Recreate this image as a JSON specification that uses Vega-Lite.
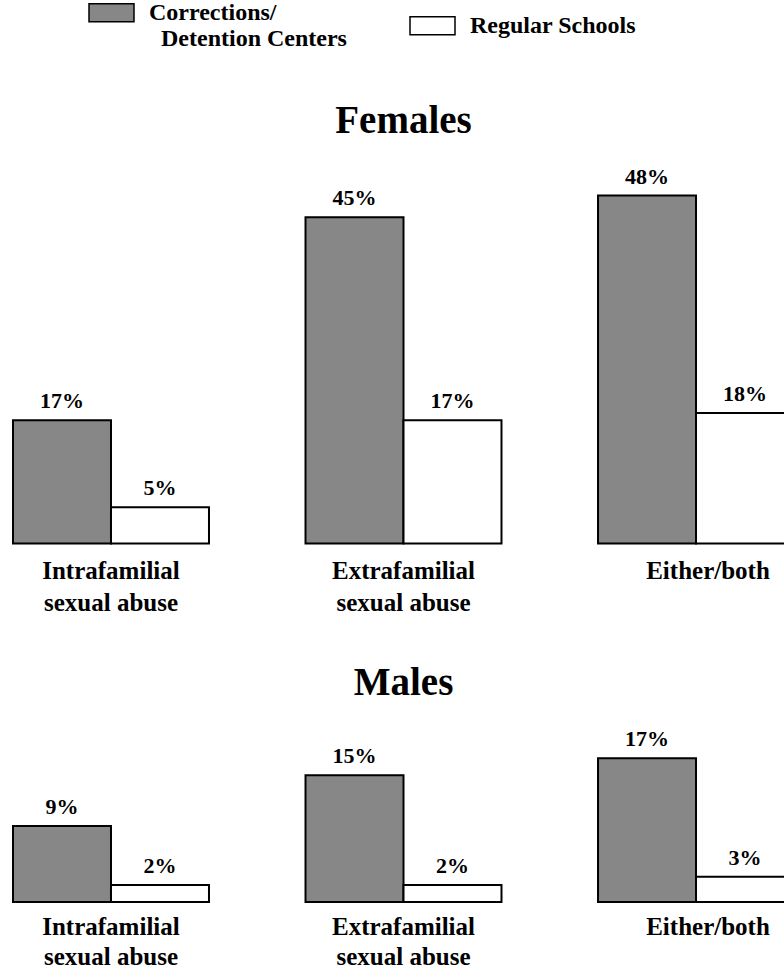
{
  "$schema": "https://vega.github.io/schema/vega-lite/v6.json",
  "padding": {"left": 12, "top": -11, "right": 0, "bottom": 0},
  "autosize": {"type": "pad"},
  "background": "white",
  "config": {
    "view": {"stroke": null},
    "font": "Liberation Serif",
    "title": {"font": "Liberation Serif", "fontSize": 39, "fontWeight": "bold", "color": "black", "anchor": "middle", "offset": 25},
    "axis": {"domain": false, "ticks": false, "grid": false, "labelFont": "Liberation Serif", "labelFontSize": 25, "labelFontWeight": "bold", "labelColor": "black", "labelPadding": 15, "labelLineHeight": 32, "labelLimit": 400, "title": null},
    "legend": {"padding": 0}
  },
  "datasets": {
    "females": [
      {"category": "Intrafamilial|sexual abuse", "type": "Corrections/Detention Centers", "value": 0.17},
      {"category": "Intrafamilial|sexual abuse", "type": "Regular Schools", "value": 0.05},
      {"category": "Extrafamilial|sexual abuse", "type": "Corrections/Detention Centers", "value": 0.45},
      {"category": "Extrafamilial|sexual abuse", "type": "Regular Schools", "value": 0.17},
      {"category": "Either/both", "type": "Corrections/Detention Centers", "value": 0.48},
      {"category": "Either/both", "type": "Regular Schools", "value": 0.18}
    ],
    "males": [
      {"category": "Intrafamilial|sexual abuse", "type": "Corrections/Detention Centers", "value": 0.09},
      {"category": "Intrafamilial|sexual abuse", "type": "Regular Schools", "value": 0.02},
      {"category": "Extrafamilial|sexual abuse", "type": "Corrections/Detention Centers", "value": 0.15},
      {"category": "Extrafamilial|sexual abuse", "type": "Regular Schools", "value": 0.02},
      {"category": "Either/both", "type": "Corrections/Detention Centers", "value": 0.17},
      {"category": "Either/both", "type": "Regular Schools", "value": 0.03}
    ]
  },
  "spacing": 48,
  "vconcat": [
    {
      "title": {"text": "Females"},
      "width": 781,
      "height": 362.5,
      "data": {"name": "females"},
      "encoding": {
        "x": {"field": "category", "type": "nominal", "sort": null, "scale": {"paddingInner": 0.33, "paddingOuter": 0},
          "axis": {"labelExpr": "split(datum.label, '|')", "labelAngle": 0,
            "labelOffset": {"condition": {"test": "datum.value == 'Either/both'", "value": 12}, "value": 0}}},
        "xOffset": {"field": "type", "type": "nominal", "sort": ["Corrections/Detention Centers", "Regular Schools"], "scale": {"paddingInner": 0, "paddingOuter": 0}},
        "y": {"field": "value", "type": "quantitative", "scale": {"domain": [0, 0.5]}, "axis": null}
      },
      "layer": [
        {
          "mark": {"type": "bar", "stroke": "black", "strokeWidth": 2, "opacity": 1},
          "encoding": {
            "fill": {"field": "type", "type": "nominal", "scale": {"domain": ["Corrections/Detention Centers", "Regular Schools"], "range": ["#878787", "#ffffff"]},
              "legend": {"orient": "none", "legendX": 75, "legendY": -192, "direction": "horizontal", "title": null, "symbolType": "M-1,-0.4H1V0.4H-1Z", "symbolSize": 2025, "symbolStrokeColor": "black", "symbolStrokeWidth": 1.5, "symbolOpacity": 1, "labelFont": "Liberation Serif", "labelFontSize": 24, "labelFontWeight": "bold", "labelColor": "black", "labelLimit": 400, "labelOffset": 14, "labelLineHeight": 28, "columnPadding": 60,
                "labelExpr": "datum.label == 'Regular Schools' ? datum.label : ['Corrections/', '\u200b\u00a0\u00a0Detention Centers']"}}
          }
        },
        {
          "mark": {"type": "text", "dy": -12, "baseline": "alphabetic", "fontSize": 22, "fontWeight": "bold", "font": "Liberation Serif", "color": "black"},
          "encoding": {"text": {"field": "value", "type": "quantitative", "format": ".0%"}}
        }
      ]
    },
    {
      "title": {"text": "Males"},
      "width": 781,
      "height": 169,
      "data": {"name": "males"},
      "encoding": {
        "x": {"field": "category", "type": "nominal", "sort": null, "scale": {"paddingInner": 0.33, "paddingOuter": 0},
          "axis": {"labelExpr": "split(datum.label, '|')", "labelAngle": 0, "labelPadding": 12, "labelLineHeight": 30,
            "labelOffset": {"condition": {"test": "datum.value == 'Either/both'", "value": 12}, "value": 0}}},
        "xOffset": {"field": "type", "type": "nominal", "sort": ["Corrections/Detention Centers", "Regular Schools"], "scale": {"paddingInner": 0, "paddingOuter": 0}},
        "y": {"field": "value", "type": "quantitative", "scale": {"domain": [0, 0.2]}, "axis": null}
      },
      "layer": [
        {
          "mark": {"type": "bar", "stroke": "black", "strokeWidth": 2, "opacity": 1},
          "encoding": {
            "fill": {"field": "type", "type": "nominal", "scale": {"domain": ["Corrections/Detention Centers", "Regular Schools"], "range": ["#878787", "#ffffff"]}}
          }
        },
        {
          "mark": {"type": "text", "dy": -12, "baseline": "alphabetic", "fontSize": 22, "fontWeight": "bold", "font": "Liberation Serif", "color": "black"},
          "encoding": {"text": {"field": "value", "type": "quantitative", "format": ".0%"}}
        }
      ]
    }
  ]
}
